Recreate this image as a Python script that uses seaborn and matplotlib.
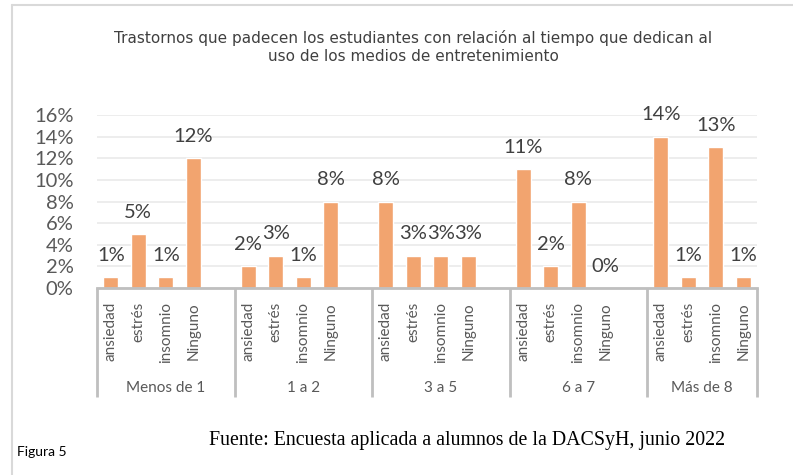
import numpy as np
import pandas as pd
import matplotlib
matplotlib.use("Agg")
import matplotlib.pyplot as plt
from matplotlib.lines import Line2D
import seaborn as sns

# datos (porcentajes)
grupos = ["Menos de 1", "1 a 2", "3 a 5", "6 a 7", "Más de 8"]
trastornos = ["ansiedad", "estrés", "insomnio", "Ninguno"]
menos_de_1 = [1, 5, 1, 12]
uno_a_dos = [2, 3, 1, 8]
tres_a_cinco = [8, 3, 3, 3]
seis_a_siete = [11, 2, 8, 0]
mas_de_ocho = [14, 1, 13, 1]
valores = [menos_de_1, uno_a_dos, tres_a_cinco, seis_a_siete, mas_de_ocho]

titulo = ("Trastornos que padecen los estudiantes con relación al tiempo que dedican al\n"
          "uso de los medios de entretenimiento")
fuente = "Fuente: Encuesta aplicada a alumnos de la DACSyH, junio 2022"

# una ranura por barra y una vacia entre grupos, como en Excel
filas = []
for gi, (g, vals) in enumerate(zip(grupos, valores)):
    for t, v in zip(trastornos, vals):
        filas.append({"slot": g + "|" + t, "grupo": g, "trastorno": t, "valor": v})
    if gi < len(grupos) - 1:
        filas.append({"slot": "hueco" + str(gi), "grupo": g, "trastorno": "", "valor": np.nan})
df = pd.DataFrame(filas)
slots = list(df["slot"])

sns.set_style("white")
plt.rcParams["font.family"] = ["Lato", "DejaVu Sans"]

W, H = 793, 475
fig = plt.figure(figsize=(W / 100, H / 100), dpi=100)
x0, x1, y0, y1 = 97, 757, 288, 115
ax = fig.add_axes([x0 / W, 1 - y0 / H, (x1 - x0) / W, (y0 - y1) / H])

naranja = "#F2A46F"
gris = "#595959"
sns.barplot(data=df, x="slot", y="valor", order=slots, color=naranja,
            saturation=1, width=0.55, errorbar=None, ax=ax)

ax.set_ylim(0, 16)
ax.set_xlim(-0.5, len(slots) - 0.5)
ax.set_yticks(range(0, 17, 2))
ax.set_yticklabels([f"{v}%" for v in range(0, 17, 2)], fontsize=14.5, color=gris)
ax.tick_params(axis="y", length=0, pad=17)
ax.tick_params(axis="x", length=0, labelbottom=False)
ax.set_xlabel("")
ax.set_ylabel("")
ax.yaxis.grid(True, color="#ececec", lw=1.3)
ax.set_axisbelow(True)
for s in ["top", "right", "left"]:
    ax.spines[s].set_visible(False)
ax.spines["bottom"].set_color("#bfbfbf")
ax.spines["bottom"].set_linewidth(2)

# etiquetas de datos
for i, r in df.iterrows():
    if np.isnan(r["valor"]):
        continue
    ax.annotate(f"{int(r['valor'])}%", (i, r["valor"]), xytext=(0, 9.5),
                textcoords="offset points", ha="center", va="bottom",
                fontsize=14.5, color="#404040")

# eje de categorias en dos niveles
def yfrac(ypix):
    return (y0 - ypix) / (y0 - y1)

trans = ax.get_xaxis_transform()
for i, r in df.iterrows():
    if r["trastorno"]:
        ax.text(i, yfrac(302), r["trastorno"], rotation=90, ha="center", va="top",
                transform=trans, fontsize=11, color=gris, clip_on=False)

limites = [-0.5]
for gi, g in enumerate(grupos):
    idx = df.index[df["grupo"] == g]
    izq, der = idx.min() - 0.5, idx.max() + 0.5
    limites.append(der)
    ax.text((izq + der) / 2, yfrac(388), g, ha="center", va="center",
            transform=trans, fontsize=11, color=gris, clip_on=False)
for b in limites:
    ax.plot([b, b], [0, yfrac(397)], transform=trans, color="#bfbfbf",
            lw=2, clip_on=False, solid_capstyle="butt")

fig.text(413 / W, 1 - 47 / H, titulo, ha="center", va="center", fontsize=11,
         color="#404040", family="DejaVu Sans", linespacing=1.3)
fig.text(17 / W, 1 - 452 / H, "Figura 5", ha="left", va="center", fontsize=10,
         color="black")
fig.text(467 / W, 1 - 440 / H, fuente, ha="center", va="center", fontsize=14.3,
         family="Liberation Serif", color="black")

# marco del area de grafico
fig.add_artist(Line2D([12 / W, 12 / W], [0, 1 - 5 / H], color="#d9d9d9", lw=1.5))
fig.add_artist(Line2D([12 / W, 1], [1 - 5 / H, 1 - 5 / H], color="#d9d9d9", lw=1.5))

fig.savefig("out.png", dpi=100)
